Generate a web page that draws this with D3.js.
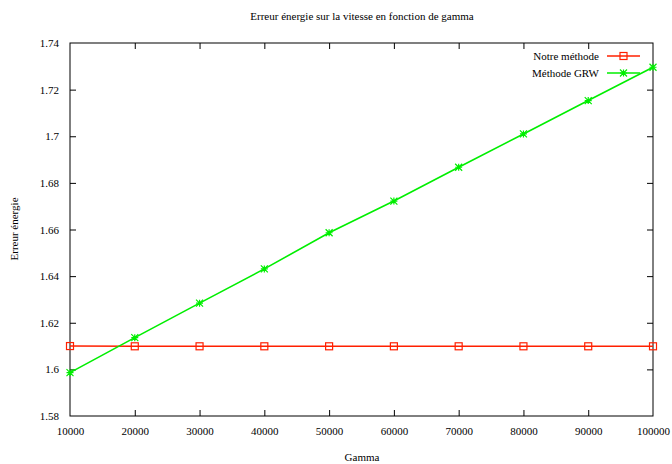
<!DOCTYPE html>
<html>
<head>
<meta charset="utf-8">
<script src="https://cdn.jsdelivr.net/npm/d3@7"></script>
<style>
  html, body { margin: 0; padding: 0; background: #fff; }
  svg text { font-family: "Liberation Serif", "DejaVu Serif", serif !important; fill: #000; }
</style>
</head>
<body>
<svg id="chart" width="672" height="464"></svg>
<script>
// Gamma values and energy error of each method
const gammas = [10000, 20000, 30000, 40000, 50000, 60000, 70000, 80000, 90000, 100000];
const notreMethode = [1.6100, 1.6099, 1.6099, 1.6099, 1.6099, 1.6099, 1.6099, 1.6099, 1.6099, 1.6099];
const methodeGRW = [1.5986, 1.6136, 1.6284, 1.6431, 1.6586, 1.6722, 1.6867, 1.7010, 1.7153, 1.7296];
const xTicks = [10000, 20000, 30000, 40000, 50000, 60000, 70000, 80000, 90000, 100000];
const yTicks = [1.58, 1.60, 1.62, 1.64, 1.66, 1.68, 1.70, 1.72, 1.74];
const seriesNames = ["Notre méthode", "Méthode GRW"];

const svg = d3.select("#chart");
const plotLeft = 70, plotRight = 653, plotTop = 43, plotBottom = 416;

const x = d3.scaleLinear().domain([10000, 100000]).range([plotLeft, plotRight]);
const y = d3.scaleLinear().domain([1.58, 1.74]).range([plotBottom, plotTop]);

const fmtY = d => String(+d.toFixed(2));
const tickLen = 6;

// Axes with inward ticks, mirrored on the opposite side
const gx = svg.append("g").attr("transform", `translate(0,${plotBottom})`)
  .call(d3.axisBottom(x).tickValues(xTicks).tickFormat(d3.format("d")).tickSize(-tickLen).tickPadding(11));
const gxTop = svg.append("g").attr("transform", `translate(0,${plotTop})`)
  .call(d3.axisTop(x).tickValues(xTicks).tickFormat("").tickSize(-tickLen));
const gy = svg.append("g").attr("transform", `translate(${plotLeft},0)`)
  .call(d3.axisLeft(y).tickValues(yTicks).tickFormat(fmtY).tickSize(-tickLen).tickPadding(11));
const gyRight = svg.append("g").attr("transform", `translate(${plotRight},0)`)
  .call(d3.axisRight(y).tickValues(yTicks).tickFormat("").tickSize(-tickLen));

[gx, gxTop, gy, gyRight].forEach(g => {
  g.attr("font-family", null);
  g.select(".domain").remove();
  g.selectAll(".tick line").attr("stroke", "#000").attr("stroke-width", 1);
  g.selectAll(".tick text").attr("font-size", 11).attr("fill", "#000");
});
// Remove tick marks that would overlap the frame corners
gxTop.selectAll(".tick").filter(d => d === 10000 || d === 100000).remove();
gx.selectAll(".tick line").filter(d => d === 10000 || d === 100000).remove();
gy.selectAll(".tick line").filter(d => d === 1.58 || d === 1.74).remove();
gyRight.selectAll(".tick").filter(d => d === 1.58 || d === 1.74).remove();

// Plot frame
svg.append("rect")
  .attr("x", plotLeft).attr("y", plotTop)
  .attr("width", plotRight - plotLeft).attr("height", plotBottom - plotTop)
  .attr("fill", "none").attr("stroke", "#000").attr("stroke-width", 1);

// Titles
svg.append("text").attr("x", 362).attr("y", 20).attr("text-anchor", "middle")
  .attr("font-size", 11).text("Erreur énergie sur la vitesse en fonction de gamma");
svg.append("text").attr("x", 362).attr("y", 461).attr("text-anchor", "middle")
  .attr("font-size", 11).text("Gamma");
svg.append("text").attr("transform", "translate(18,229) rotate(-90)").attr("text-anchor", "middle")
  .attr("font-size", 11).text("Erreur énergie");

const red = "#ff2000", green = "#00ee00";

function squareMarker(g, cx, cy, color) {
  g.append("rect").attr("x", cx - 3.5).attr("y", cy - 3.5).attr("width", 7).attr("height", 7)
    .attr("fill", "none").attr("stroke", color).attr("stroke-width", 1.2);
}
function starMarker(g, cx, cy, color) {
  const s = 3.5;
  const p = `M${cx - s},${cy}L${cx + s},${cy}M${cx},${cy - s}L${cx},${cy + s}` +
            `M${cx - s},${cy - s}L${cx + s},${cy + s}M${cx - s},${cy + s}L${cx + s},${cy - s}`;
  g.append("path").attr("d", p).attr("stroke", color).attr("stroke-width", 1.2).attr("fill", "none");
}

const line = d3.line().x(d => x(d[0])).y(d => y(d[1]));
const series = [
  { name: seriesNames[0], values: notreMethode, color: red, marker: squareMarker },
  { name: seriesNames[1], values: methodeGRW, color: green, marker: starMarker }
];

series.forEach((s, i) => {
  const pts = gammas.map((g, k) => [g, s.values[k]]);
  const g = svg.append("g");
  g.append("path").datum(pts).attr("d", line)
    .attr("fill", "none").attr("stroke", s.color).attr("stroke-width", 1.6);
  pts.forEach(p => s.marker(g, x(p[0]), y(p[1]), s.color));

  // Legend entry
  const ly = 56 + i * 17;
  svg.append("text").attr("x", 599).attr("y", ly + 4).attr("text-anchor", "end")
    .attr("font-size", 11).text(s.name);
  g.append("line").attr("x1", 607).attr("x2", 640).attr("y1", ly).attr("y2", ly)
    .attr("stroke", s.color).attr("stroke-width", 1.6);
  s.marker(g, 623.5, ly, s.color);
});
</script>
</body>
</html>
